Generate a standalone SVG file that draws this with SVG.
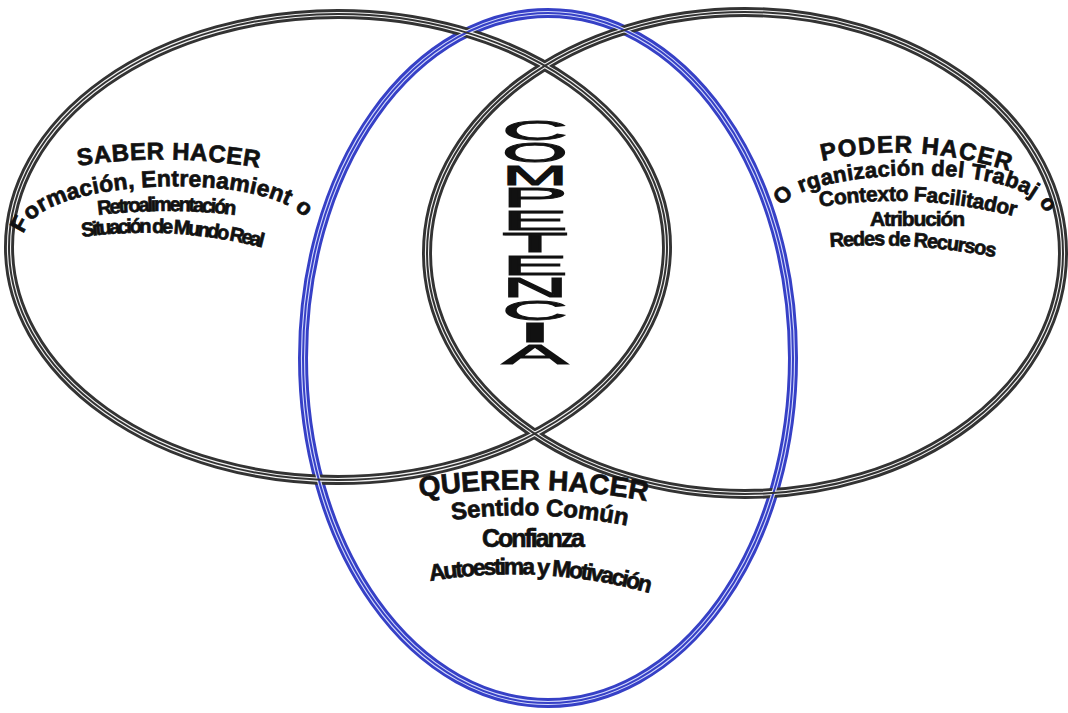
<svg xmlns="http://www.w3.org/2000/svg" xmlns:xlink="http://www.w3.org/1999/xlink" width="1068" height="713" viewBox="0 0 1068 713">
<style>
.outerG{fill:none;stroke:#333333;stroke-width:10}
.outerB{fill:none;stroke:#3640c6;stroke-width:10}
.gap{fill:none;stroke:#f4f4f4;stroke-width:4.2}
.gapB{fill:none;stroke:#d4dafc;stroke-width:4.2}
.innerG{fill:none;stroke:#333333;stroke-width:2}
.innerB{fill:none;stroke:#3640c6;stroke-width:2}
text{font-family:"Liberation Sans",Arial,sans-serif;font-weight:bold;fill:#111;stroke:#111;stroke-width:0.7}
.comp{font-size:93px;text-anchor:middle;font-weight:normal;stroke-width:2.8}
</style>
<defs>
<ellipse id="eL" cx="338" cy="247" rx="329" ry="233"/>
<ellipse id="eR" cx="745" cy="253" rx="318" ry="241"/>
<ellipse id="eB" cx="548" cy="358" rx="245" ry="345"/>
<path id="p1" d="M 78,166 Q 168,152 260,168"/>
<path id="p2" d="M 24,234 C 36,176 285,168 310,226"/>
<path id="p3" d="M 98,215 Q 167,207 236,215"/>
<path id="p4" d="M 82,237 Q 170,225 260,247"/>
<path id="p5" d="M 822,161 Q 915,140 1012,172"/>
<path id="p6" d="M 782,207 C 800,170 1020,158 1045,212"/>
<path id="p7" d="M 820,207 Q 915,191 1017,217"/>
<path id="p8" d="M 870,226 L 965,226"/>
<path id="p9" d="M 830,247 Q 910,241 994,257"/>
<path id="p10" d="M 420,497 Q 535,480 652,502"/>
<path id="p11" d="M 452,520 Q 540,508 628,526"/>
<path id="p12" d="M 482,547 L 585,547"/>
<path id="p13" d="M 430,581 Q 540,563 650,593"/>
</defs>
<rect width="1068" height="713" fill="#ffffff"/>
<g id="connectors">
<use xlink:href="#eB" class="outerB"/>
<use xlink:href="#eL" class="outerG"/>
<use xlink:href="#eR" class="outerG"/>
<use xlink:href="#eB" class="gapB"/>
<use xlink:href="#eL" class="gap"/>
<use xlink:href="#eR" class="gap"/>
<use xlink:href="#eB" class="innerB"/>
<use xlink:href="#eL" class="innerG"/>
<use xlink:href="#eR" class="innerG"/>
</g>
<g id="saber-hacer">
<text font-size="24"><textPath xlink:href="#p1" textLength="182">SABER HACER</textPath></text>
<text font-size="23"><textPath xlink:href="#p2" textLength="302">Formación, Entrenamient o</textPath></text>
<text font-size="20"><textPath xlink:href="#p3" textLength="138">Retroalimentación</textPath></text>
<text font-size="20"><textPath xlink:href="#p4" textLength="182">Situación de Mundo Real</textPath></text>
</g>
<g id="poder-hacer">
<text font-size="24"><textPath xlink:href="#p5" textLength="190">PODER HACER</textPath></text>
<text font-size="22"><textPath xlink:href="#p6" textLength="282">O rganización del Trabaj o</textPath></text>
<text font-size="21"><textPath xlink:href="#p7" textLength="197">Contexto Facilitador</textPath></text>
<text font-size="21"><textPath xlink:href="#p8" textLength="95">Atribución</textPath></text>
<text font-size="20"><textPath xlink:href="#p9" textLength="166">Redes de Recursos</textPath></text>
</g>
<g id="querer-hacer">
<text font-size="28"><textPath xlink:href="#p10" textLength="228">QUERER HACER</textPath></text>
<text font-size="24"><textPath xlink:href="#p11" textLength="176">Sentido Común</textPath></text>
<text font-size="25"><textPath xlink:href="#p12" textLength="103">Confianza</textPath></text>
<text font-size="23"><textPath xlink:href="#p13" textLength="222">Autoestima y Motivación</textPath></text>
</g>
<g id="competencia" transform="translate(535,0) scale(1,0.3)">
<text class="comp" x="0" y="466.7" textLength="66" lengthAdjust="spacingAndGlyphs">C</text>
<text class="comp" x="0" y="541.5" textLength="66" lengthAdjust="spacingAndGlyphs">O</text>
<text class="comp" x="0" y="616.3" textLength="66" lengthAdjust="spacingAndGlyphs">M</text>
<text class="comp" x="0" y="691.2" textLength="66" lengthAdjust="spacingAndGlyphs">P</text>
<text class="comp" x="0" y="766" textLength="66" lengthAdjust="spacingAndGlyphs">E</text>
<text class="comp" x="0" y="840.8" textLength="66" lengthAdjust="spacingAndGlyphs">T</text>
<text class="comp" x="0" y="915.7" textLength="66" lengthAdjust="spacingAndGlyphs">E</text>
<text class="comp" x="0" y="990.5" textLength="66" lengthAdjust="spacingAndGlyphs">N</text>
<text class="comp" x="0" y="1065.3" textLength="66" lengthAdjust="spacingAndGlyphs">C</text>
<text class="comp" x="0" y="1140.2" textLength="40" lengthAdjust="spacingAndGlyphs">I</text>
<text class="comp" x="0" y="1215" textLength="66" lengthAdjust="spacingAndGlyphs">A</text>
</g>
</svg>
